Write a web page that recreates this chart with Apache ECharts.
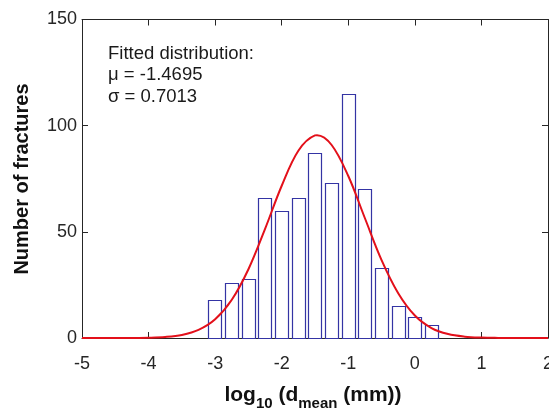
<!DOCTYPE html>
<html>
<head>
<meta charset="utf-8">
<script src="https://cdn.jsdelivr.net/npm/echarts@6/dist/echarts.min.js"></script>
<style>
  html, body { margin: 0; padding: 0; background: #fff; }
  #chart { width: 549px; height: 408px; }
</style>
</head>
<body>
<div id="chart"></div>
<script>
// ---- data ----
var binCenters = [-3, -2.75, -2.5, -2.25, -2, -1.75, -1.5, -1.25, -1, -0.75, -0.5, -0.25, 0, 0.25];
var binCounts  = [18, 26, 28, 66, 60, 66, 87, 73, 115, 70, 33, 15, 10, 6];
var curveX = [-5, -4.75, -4.5, -4.25, -4, -3.75, -3.5, -3.25, -3, -2.75, -2.5, -2.25, -2, -1.75, -1.5, -1.4695, -1.25, -1, -0.75, -0.5, -0.25, 0, 0.25, 0.5, 0.75, 1, 1.25, 1.5, 1.75, 2];
var curveY = [0, 0.002, 0.008, 0.037, 0.14, 0.48, 1.44, 3.8, 8.8, 18.0, 32.4, 51.4, 71.7, 88.2, 95.4, 95.5, 90.9, 76.3, 56.4, 36.7, 21.1, 10.6, 4.7, 1.85, 0.64, 0.19, 0.05, 0.01, 0, 0];
var xTicks = [-5, -4, -3, -2, -1, 0, 1, 2];
var yTicks = [0, 50, 100, 150];
var annotationLines = ['Fitted distribution:', 'μ = -1.4695', 'σ = 0.7013'];
var yTitle = 'Number of fractures';

var FONT = '"Liberation Sans", Arial, Helvetica, sans-serif';
var AXC = '#262626';
var barHalf = 0.1;

var chart = echarts.init(document.getElementById('chart'), null, { renderer: 'canvas' });

var histData = binCenters.map(function (c, i) { return [c, binCounts[i]]; });
var curveData = curveX.map(function (x, i) { return [x, curveY[i]]; });

function axisCommon(showLabel, pos) {
  return {
    type: 'value',
    position: pos,
    min: xTicks[0],
    max: xTicks[xTicks.length - 1],
    interval: 1,
    axisLine: { show: true, onZero: false, lineStyle: { color: AXC, width: 1 } },
    axisTick: { show: true, inside: true, length: 6, lineStyle: { color: AXC, width: 1 } },
    axisLabel: { show: showLabel, color: AXC, fontSize: 18, fontFamily: FONT, margin: 17,
                 alignMinLabel: 'center', alignMaxLabel: 'center', hideOverlap: false },
    splitLine: { show: false }
  };
}
function yAxisCommon(showLabel, pos) {
  return {
    type: 'value',
    position: pos,
    min: yTicks[0],
    max: yTicks[yTicks.length - 1],
    interval: 50,
    axisLine: { show: true, onZero: false, lineStyle: { color: AXC, width: 1 } },
    axisTick: { show: true, inside: true, length: 6, lineStyle: { color: AXC, width: 1 } },
    axisLabel: { show: showLabel, color: AXC, fontSize: 18, fontFamily: FONT, margin: 5 },
    splitLine: { show: false }
  };
}

var option = {
  animation: false,
  backgroundColor: '#ffffff',
  grid: { left: 82, right: 1, top: 19.5, bottom: 70, containLabel: false, outerBoundsMode: 'none' },
  xAxis: [axisCommon(true, 'bottom'), axisCommon(false, 'top')],
  yAxis: [yAxisCommon(true, 'left'), yAxisCommon(false, 'right')],
  graphic: [
    {
      type: 'text', left: 108, top: 43,
      style: { text: annotationLines.join('\n'), fill: '#1a1a1a', font: '18.5px ' + FONT, lineHeight: 21.5 }
    },
    {
      type: 'text', x: 22, y: 179, rotation: Math.PI / 2,
      style: { text: yTitle, fill: '#111', font: 'bold 20px ' + FONT, align: 'center', verticalAlign: 'middle' }
    },
    {
      type: 'text', x: 313, y: 394,
      style: {
        text: '{b|log}{s|10}{b| (d}{s|mean}{b| (mm))}',
        align: 'center', verticalAlign: 'middle',
        rich: {
          b: { font: 'bold 21px ' + FONT, fill: '#111', verticalAlign: 'bottom', lineHeight: 24 },
          s: { font: 'bold 15px ' + FONT, fill: '#111', verticalAlign: 'bottom', lineHeight: 18, padding: [0, 0, -5, 0] }
        }
      }
    }
  ],
  series: [
    {
      type: 'custom',
      xAxisIndex: 0, yAxisIndex: 0,
      data: histData,
      z: 3,
      renderItem: function (params, api) {
        var c = api.value(0), v = api.value(1);
        var p0 = api.coord([c - barHalf, v]);
        var p1 = api.coord([c + barHalf, 0]);
        return {
          type: 'rect',
          shape: { x: Math.round(p0[0]) + 0.5, y: Math.round(p0[1]) + 0.5, width: Math.round(p1[0] - p0[0]), height: Math.round(p1[1] - p0[1]) },
          style: { fill: '#ffffff', stroke: '#3434a4', lineWidth: 1.2 }
        };
      }
    },
    {
      type: 'line',
      xAxisIndex: 0, yAxisIndex: 0,
      data: curveData,
      z: 4,
      smooth: 0.35,
      symbol: 'none',
      lineStyle: { color: '#e3101a', width: 2 }
    }
  ]
};
chart.setOption(option);
</script>
</body>
</html>
